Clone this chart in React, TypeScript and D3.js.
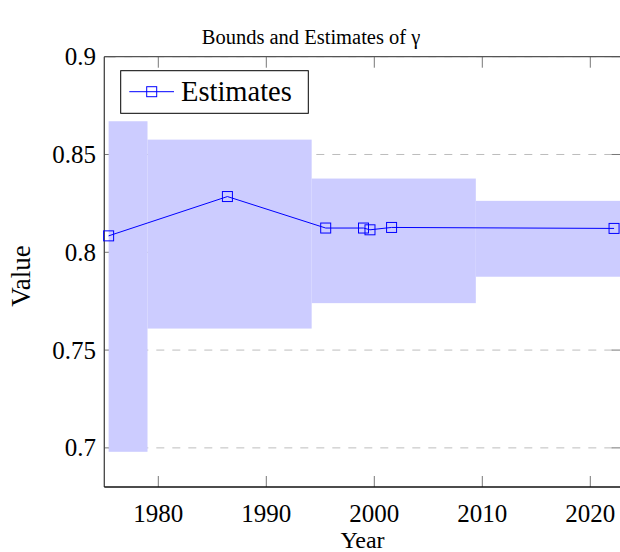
import React, { useEffect, useRef } from 'react';
import * as d3 from 'd3';

// bounds: one step per period
const bandStart = [1975.4, 1979, 1994.2, 2009.4];
const bandEnd = [1979, 1994.2, 2009.4, 2023];
const bandLower = [0.698, 0.761, 0.774, 0.7875];
const bandUpper = [0.867, 0.8576, 0.8377, 0.8263];

// estimates
const estYears = [1975.4, 1986.4, 1995.5, 1999.0, 1999.6, 2001.6, 2022.2];
const estValues = [0.8084, 0.8285, 0.8124, 0.8124, 0.8115, 0.8127, 0.8122];

const xTicks = [1980, 1990, 2000, 2010, 2020];
const yTicks = [0.7, 0.75, 0.8, 0.85, 0.9];
const yTickLabels = ['0.7', '0.75', '0.8', '0.85', '0.9'];

const FONT = '"Liberation Serif", "DejaVu Serif", serif';

export default function App() {
  const ref = useRef<SVGSVGElement>(null);

  useEffect(() => {
    const width = 620;
    const height = 552;
    const svg = d3.select(ref.current);
    svg.selectAll('*').remove();
    svg.attr('width', width).attr('height', height);

    const left = 104.3, right = 622.7, top = 56.7, bottom = 487;
    const x = d3.scaleLinear().domain([1975, 2023]).range([left, right]);
    const y = d3.scaleLinear().domain([0.68, 0.9]).range([bottom, top]);
    const tickLen = 11;

    svg.append('defs').append('clipPath').attr('id', 'plotclip')
      .append('rect').attr('x', left).attr('y', top)
      .attr('width', right - left).attr('height', bottom - top);

    // y grid (dashed)
    svg.append('g').selectAll('line').data(yTicks).enter().append('line')
      .attr('x1', left).attr('x2', right)
      .attr('y1', d => y(d)).attr('y2', d => y(d))
      .attr('stroke', '#bdbdbd').attr('stroke-width', 1)
      .attr('stroke-dasharray', '8,8').attr('stroke-dashoffset', -4);

    // ticks (inward, both sides)
    const ticks = svg.append('g').attr('stroke', '#777').attr('stroke-width', 1);
    xTicks.forEach(t => {
      ticks.append('line').attr('x1', x(t)).attr('x2', x(t)).attr('y1', bottom).attr('y2', bottom - tickLen);
      ticks.append('line').attr('x1', x(t)).attr('x2', x(t)).attr('y1', top).attr('y2', top + tickLen);
    });
    yTicks.forEach(t => {
      ticks.append('line').attr('x1', left).attr('x2', left + tickLen).attr('y1', y(t)).attr('y2', y(t));
      ticks.append('line').attr('x1', right).attr('x2', right - tickLen).attr('y1', y(t)).attr('y2', y(t));
    });

    // bounds band
    svg.append('g').attr('clip-path', 'url(#plotclip)')
      .selectAll('rect').data(bandStart).enter().append('rect')
      .attr('x', (d) => x(d))
      .attr('width', (d, i) => x(bandEnd[i]) - x(d))
      .attr('y', (d, i) => y(bandUpper[i]))
      .attr('height', (d, i) => y(bandLower[i]) - y(bandUpper[i]))
      .attr('fill', '#ccccff');

    // frame
    const frame = svg.append('g').attr('fill', 'none');
    frame.append('line').attr('x1', left).attr('x2', right).attr('y1', top).attr('y2', top).attr('stroke', '#555').attr('stroke-width', 1.3);
    frame.append('line').attr('x1', right).attr('x2', right).attr('y1', top).attr('y2', bottom).attr('stroke', '#555').attr('stroke-width', 1.3);
    frame.append('line').attr('x1', left).attr('x2', left).attr('y1', top).attr('y2', bottom).attr('stroke', '#444').attr('stroke-width', 1.3);
    frame.append('line').attr('x1', left).attr('x2', right).attr('y1', bottom).attr('y2', bottom).attr('stroke', '#111').attr('stroke-width', 1.3);

    // tick labels
    svg.append('g').selectAll('text').data(xTicks).enter().append('text')
      .attr('x', d => x(d)).attr('y', 522)
      .attr('text-anchor', 'middle')
      .style('font-family', FONT).style('font-size', '25px')
      .text(d => String(d));
    svg.append('g').selectAll('text').data(yTicks).enter().append('text')
      .attr('x', 96).attr('y', d => y(d) + 8.5)
      .attr('text-anchor', 'end')
      .style('font-family', FONT).style('font-size', '25px')
      .text((d, i) => yTickLabels[i]);

    // estimates line + square markers
    const pts = estYears.map((yr, i) => [x(yr), y(estValues[i])] as [number, number]);
    svg.append('path').attr('d', d3.line()(pts))
      .attr('fill', 'none').attr('stroke', '#0000ff').attr('stroke-width', 1);
    const ms = 10;
    svg.append('g').selectAll('rect').data(pts).enter().append('rect')
      .attr('x', d => d[0] - ms / 2).attr('y', d => d[1] - ms / 2)
      .attr('width', ms).attr('height', ms)
      .attr('fill', 'none').attr('stroke', '#0000ff').attr('stroke-width', 1);

    // legend
    const lg = svg.append('g');
    lg.append('rect').attr('x', 120.7).attr('y', 70.7).attr('width', 187.6).attr('height', 42.6)
      .attr('fill', '#fff').attr('stroke', '#000').attr('stroke-width', 1);
    lg.append('line').attr('x1', 129.3).attr('x2', 174).attr('y1', 91.7).attr('y2', 91.7)
      .attr('stroke', '#0000ff').attr('stroke-width', 1);
    lg.append('rect').attr('x', 151.7 - ms / 2).attr('y', 91.7 - ms / 2).attr('width', ms).attr('height', ms)
      .attr('fill', 'none').attr('stroke', '#0000ff').attr('stroke-width', 1);
    lg.append('text').attr('x', 181).attr('y', 101)
      .style('font-family', FONT).style('font-size', '28.5px')
      .text('Estimates');

    // axis labels + title
    svg.append('text').attr('x', (left + right) / 2 - 1).attr('y', 548)
      .attr('text-anchor', 'middle')
      .style('font-family', FONT).style('font-size', '24px').text('Year');
    svg.append('text').attr('transform', `translate(30,276) rotate(-90)`)
      .attr('text-anchor', 'middle')
      .style('font-family', FONT).style('font-size', '27px').text('Value');
    svg.append('text').attr('x', 311).attr('y', 44)
      .attr('text-anchor', 'middle')
      .style('font-family', FONT).style('font-size', '20.5px').text('Bounds and Estimates of γ');
  }, []);

  return (
    <div style={{ position: 'absolute', left: 0, top: 0 }}>
      <svg ref={ref} style={{ display: 'block' }}></svg>
    </div>
  );
}
